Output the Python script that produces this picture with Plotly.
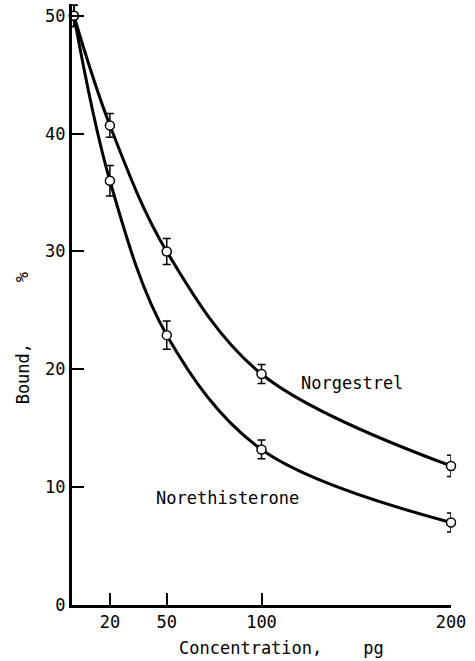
import plotly.graph_objects as go

# Data
conc = [1, 20, 50, 100, 200]
norgestrel = [50.0, 40.7, 30.0, 19.6, 11.8]
norgestrel_err = [0.9, 1.0, 1.1, 0.8, 0.9]
norethisterone = [50.0, 36.0, 22.9, 13.2, 7.0]
norethisterone_err = [0.9, 1.3, 1.2, 0.8, 0.8]
x_ticks = [20, 50, 100, 200]
y_ticks = [0, 10, 20, 30, 40, 50]

FONT = "DejaVu Sans Mono"

fig = go.Figure()
for name, ys, err in [("Norgestrel", norgestrel, norgestrel_err),
                      ("Norethisterone", norethisterone, norethisterone_err)]:
    fig.add_trace(go.Scatter(
        x=conc, y=ys, mode="lines+markers", name=name,
        line=dict(color="black", width=3, shape="spline", smoothing=1.0),
        marker=dict(symbol="circle", size=9, color="white",
                    line=dict(color="black", width=1.5)),
        error_y=dict(type="data", array=err, visible=True,
                     color="black", thickness=1.5, width=4),
        cliponaxis=False, showlegend=False,
    ))

fig.update_layout(
    width=475, height=661,
    margin=dict(l=72, r=24, t=4, b=56),
    plot_bgcolor="white", paper_bgcolor="white",
    font=dict(family=FONT, size=17, color="black"),
    xaxis=dict(range=[0, 200], tickvals=x_ticks, ticktext=[str(v) for v in x_ticks],
               ticks="inside", ticklen=12, tickwidth=1.5, tickcolor="black",
               showline=True, linecolor="black", linewidth=3,
               showgrid=False, zeroline=False, ticklabelstandoff=0),
    yaxis=dict(range=[0, 51], tickvals=y_ticks, ticktext=[str(v) for v in y_ticks],
               ticks="inside", ticklen=12, tickwidth=1.5, tickcolor="black",
               showline=True, linecolor="black", linewidth=3,
               showgrid=False, zeroline=False, ticklabelstandoff=0),
    annotations=[
        dict(x=147.5, y=18.8, xref="x", yref="y", text="Norgestrel",
             showarrow=False, font=dict(size=17)),
        dict(x=82, y=9.1, xref="x", yref="y", text="Norethisterone",
             showarrow=False, font=dict(size=17)),
        dict(x=0.554, y=-0.072, xref="paper", yref="paper",
             xanchor="center", yanchor="middle",
             text="Concentration,&nbsp;&nbsp;&nbsp;&nbsp;pg",
             showarrow=False, font=dict(size=17)),
        dict(x=-0.13, y=0.385, xref="paper", yref="paper", text="Bound,",
             xanchor="center", yanchor="middle",
             showarrow=False, textangle=-90, font=dict(size=17)),
        dict(x=-0.13, y=0.545, xref="paper", yref="paper", text="%",
             xanchor="center", yanchor="middle",
             showarrow=False, textangle=-90, font=dict(size=17)),
    ],
)

fig.write_html("out.html")
